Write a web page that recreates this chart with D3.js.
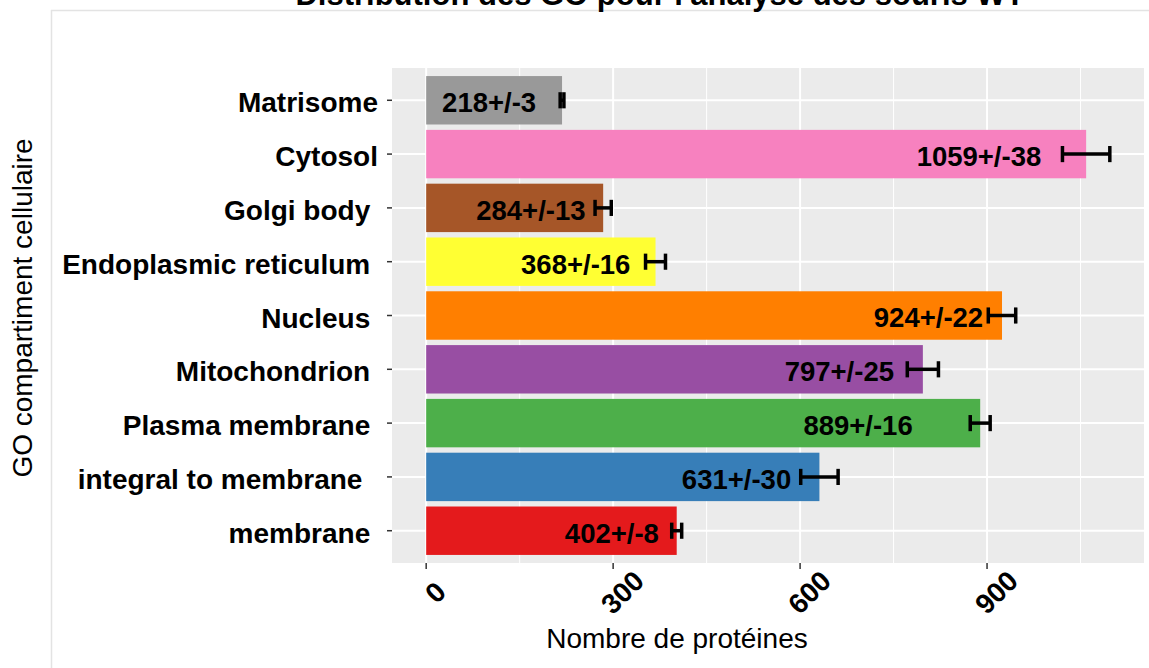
<!DOCTYPE html>
<html>
<head>
<meta charset="utf-8">
<script src="https://cdn.jsdelivr.net/npm/d3@7/dist/d3.min.js"></script>
<style>
  html, body { margin: 0; padding: 0; background: #fff; }
  svg { display: block; }
  text { font-family: "Liberation Sans", Arial, sans-serif; }
</style>
</head>
<body>
<svg id="chart" width="1149" height="668"></svg>
<script>
// GO cellular compartments, top to bottom
const categories = ["Matrisome", "Cytosol", "Golgi body ", "Endoplasmic reticulum ", "Nucleus ",
                    "Mitochondrion ", "Plasma membrane ", "integral to membrane  ", "membrane "];
// mean protein counts and their spread
const counts = [218, 1059, 284, 368, 924, 797, 889, 631, 402];
const spread = [3, 38, 13, 16, 22, 25, 16, 30, 8];
// where each value label sits along the count axis
const labelAt = [101, 887, 168, 240, 806, 663, 693, 498, 298];
// fill per compartment (ColorBrewer Set1)
const fills = ["#999999", "#F781BF", "#A65628", "#FFFF33", "#FF7F00", "#984EA3", "#4DAF4A", "#377EB8", "#E41A1C"];
const xTicks = [0, 300, 600, 900];
const xMinor = [150, 450, 750, 1050];

const title = "Distribution des GO pour l'analyse des souris WT";
const xTitle = "Nombre de protéines";
const yTitle = "GO compartiment cellulaire";

const svg = d3.select("#chart");

// outer frame of the figure
svg.append("line").attr("x1", 51.5).attr("x2", 51.5).attr("y1", 10).attr("y2", 668)
  .attr("stroke", "#e3e3e3").attr("stroke-width", 1.5);
svg.append("line").attr("x1", 51).attr("x2", 1149).attr("y1", 10.5).attr("y2", 10.5)
  .attr("stroke", "#e3e3e3").attr("stroke-width", 1.5);

// panel geometry
const panel = { left: 392, right: 1144, top: 68, bottom: 563 };

const maxHigh = d3.max(counts, (d, i) => d + spread[i]);
const pad = maxHigh * 0.05;
const x = d3.scaleLinear().domain([-pad, maxHigh + pad]).range([panel.left, panel.right]);

const step = (panel.bottom - panel.top) / (categories.length - 1 + 1.2);
const yPoint = d3.scalePoint().domain(categories)
  .range([panel.top + 0.6 * step, panel.bottom - 0.6 * step]);
const barH = 0.9 * step;

// title (partly above the frame)
svg.append("text").attr("x", 660).attr("y", 5).attr("text-anchor", "middle")
  .attr("font-weight", "bold").attr("font-size", 31).attr("fill", "#000").text(title);

// panel background
svg.append("rect").attr("x", panel.left).attr("y", panel.top)
  .attr("width", panel.right - panel.left).attr("height", panel.bottom - panel.top)
  .attr("fill", "#EBEBEB");

const grid = svg.append("g");
grid.selectAll("line.minor").data(xMinor).join("line").attr("class", "minor")
  .attr("x1", d => x(d)).attr("x2", d => x(d)).attr("y1", panel.top).attr("y2", panel.bottom)
  .attr("stroke", "#fff").attr("stroke-width", 1);
grid.selectAll("line.majx").data(xTicks).join("line").attr("class", "majx")
  .attr("x1", d => x(d)).attr("x2", d => x(d)).attr("y1", panel.top).attr("y2", panel.bottom)
  .attr("stroke", "#fff").attr("stroke-width", 2);
grid.selectAll("line.majy").data(categories).join("line").attr("class", "majy")
  .attr("x1", panel.left).attr("x2", panel.right).attr("y1", d => yPoint(d)).attr("y2", d => yPoint(d))
  .attr("stroke", "#fff").attr("stroke-width", 2);

// bars
svg.append("g").selectAll("rect").data(categories).join("rect")
  .attr("x", x(0))
  .attr("y", d => yPoint(d) - barH / 2)
  .attr("width", (d, i) => x(counts[i]) - x(0))
  .attr("height", barH)
  .attr("fill", (d, i) => fills[i]);

// value labels
svg.append("g").selectAll("text").data(categories).join("text")
  .attr("x", (d, i) => x(labelAt[i]))
  .attr("y", d => yPoint(d) + 2)
  .attr("dy", "0.36em")
  .attr("text-anchor", "middle")
  .attr("font-weight", "bold").attr("font-size", 27.5).attr("fill", "#000")
  .text((d, i) => counts[i] + "+/-" + spread[i]);

// error bars
const capH = 0.3 * step;
const eb = svg.append("g").attr("stroke", "#000").attr("stroke-width", 3.5).attr("fill", "none");
categories.forEach((c, i) => {
  const cy = yPoint(c);
  const lo = x(counts[i] - spread[i]), hi = x(counts[i] + spread[i]);
  eb.append("line").attr("x1", lo).attr("x2", hi).attr("y1", cy).attr("y2", cy);
  eb.append("line").attr("x1", lo).attr("x2", lo).attr("y1", cy - capH / 2).attr("y2", cy + capH / 2);
  eb.append("line").attr("x1", hi).attr("x2", hi).attr("y1", cy - capH / 2).attr("y2", cy + capH / 2);
});

// y axis: ticks and category names
const yAxis = svg.append("g");
yAxis.selectAll("line").data(categories).join("line")
  .attr("x1", panel.left - 5).attr("x2", panel.left)
  .attr("y1", d => yPoint(d)).attr("y2", d => yPoint(d))
  .attr("stroke", "#333").attr("stroke-width", 1.5);
yAxis.selectAll("text").data(categories).join("text")
  .attr("x", panel.left - 14).attr("y", d => yPoint(d) + 2).attr("dy", "0.36em")
  .attr("text-anchor", "end").attr("font-weight", "bold").attr("font-size", 28)
  .style("white-space", "pre").attr("fill", "#000")
  .text(d => d);

// x axis: ticks and rotated labels
const xAxis = svg.append("g");
xAxis.selectAll("line").data(xTicks).join("line")
  .attr("x1", d => x(d)).attr("x2", d => x(d))
  .attr("y1", panel.bottom).attr("y2", panel.bottom + 6)
  .attr("stroke", "#333").attr("stroke-width", 1.5);
xAxis.selectAll("text").data(xTicks).join("text")
  .attr("transform", d => `translate(${x(d) + 9},${panel.bottom + 29}) rotate(-45)`)
  .attr("text-anchor", "middle").attr("dy", "0.36em")
  .attr("font-weight", "bold").attr("font-size", 28).attr("fill", "#000")
  .text(d => d);

// axis titles
svg.append("text").attr("x", 677).attr("y", 648).attr("text-anchor", "middle")
  .attr("font-size", 28).attr("fill", "#000").text(xTitle);
svg.append("text").attr("transform", "translate(32,308) rotate(-90)")
  .attr("text-anchor", "middle").attr("font-size", 28).attr("fill", "#000").text(yTitle);
</script>
</body>
</html>
